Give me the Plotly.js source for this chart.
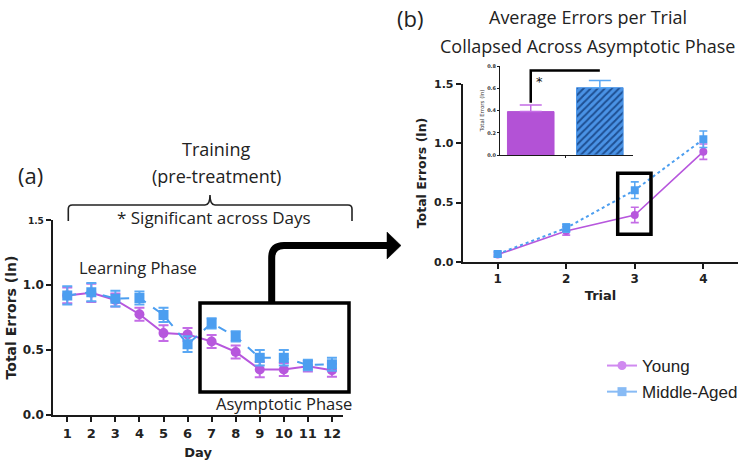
<!DOCTYPE html>
<html>
<head>
<meta charset="utf-8">
<script src="https://cdn.plot.ly/plotly-3.0.1.min.js"></script>
<style>html,body{margin:0;padding:0;background:#fff;}#chart{width:752px;height:470px;}</style>
</head>
<body>
<div id="chart"></div>
<script>
// ---------- data ----------
const days = [1,2,3,4,5,6,7,8,9,10,11,12];
const youngDay = [0.92,0.94,0.885,0.775,0.63,0.62,0.565,0.485,0.35,0.35,0.375,0.345];
const youngDayErr = [0.06,0.07,0.05,0.05,0.06,0.05,0.05,0.05,0.06,0.05,0.04,0.05];
const middleDay = [0.92,0.945,0.895,0.9,0.77,0.545,0.705,0.605,0.44,0.44,0.385,0.39];
const middleDayErr = [0.07,0.07,0.06,0.05,0.055,0.06,0.04,0.04,0.06,0.06,0.04,0.05];

const trials = [1,2,3,4];
const youngTrial = [0.06,0.26,0.395,0.93];
const youngTrialErr = [0.02,0.035,0.065,0.065];
const middleTrial = [0.065,0.285,0.605,1.035];
const middleTrialErr = [0.02,0.035,0.07,0.07];

const insetGroups = [1,2];           // Young, Middle-Aged
const insetMeans = [0.39,0.605];
const insetErr = [0.06,0.065];

const dayTickText = ['0.0','0.5','1.0','<span style="font-size:9px">1.5</span>'];
const yTicks = [0,0.5,1,1.5];
const insetTicks = [0,0.2,0.4,0.6,0.8];

// ---------- helpers ----------
const W = 752, H = 470;
const px = x => x / W;
const py = y => 1 - y / H;

const PURPLE = '#B757DD', PURPLE_E = '#C46CE6';
const BLUE = '#4C9EF0', BLUE_E = '#5AA8F4';
const tickFontBold = (s) => ({family:'DejaVu Sans', size:s, color:'#222', weight:'bold'});

const traces = [
  {x: days, y: youngDay, xaxis:'x', yaxis:'y', type:'scatter', mode:'lines+markers',
   line:{color:PURPLE, width:2}, marker:{color:PURPLE, size:10, symbol:'circle'},
   error_y:{type:'data', array:youngDayErr, color:PURPLE_E, thickness:2, width:5}, showlegend:false},
  {x: days, y: middleDay, xaxis:'x', yaxis:'y', type:'scatter', mode:'lines+markers',
   line:{color:BLUE, width:2, dash:'dash'}, marker:{color:BLUE, size:10, symbol:'square'},
   error_y:{type:'data', array:middleDayErr, color:BLUE_E, thickness:2, width:5}, showlegend:false},
  {x: trials, y: youngTrial, xaxis:'x2', yaxis:'y2', type:'scatter', mode:'lines+markers',
   line:{color:PURPLE, width:1.6}, marker:{color:PURPLE, size:8, symbol:'circle'},
   error_y:{type:'data', array:youngTrialErr, color:PURPLE_E, thickness:1.6, width:4}, showlegend:false},
  {x: trials, y: middleTrial, xaxis:'x2', yaxis:'y2', type:'scatter', mode:'lines+markers',
   line:{color:BLUE, width:2, dash:'dot'}, marker:{color:BLUE, size:8, symbol:'square'},
   error_y:{type:'data', array:middleTrialErr, color:BLUE_E, thickness:1.6, width:4}, showlegend:false},
  {x: [insetGroups[0]], y: [insetMeans[0]], xaxis:'x3', yaxis:'y3', type:'bar', width:0.674,
   marker:{color:'#B352D6', line:{color:'#B352D6', width:1}},
   error_y:{type:'data', symmetric:false, array:[insetErr[0]], arrayminus:[0], color:'#C46CE6', thickness:1.5, width:11},
   showlegend:false},
  {x: [insetGroups[1]], y: [insetMeans[1]], xaxis:'x3', yaxis:'y3', type:'bar', width:0.674,
   marker:{color:'#4A93E6', line:{color:'#4A93E6', width:1},
     pattern:{shape:'/', fillmode:'replace', bgcolor:'#4A93E6', fgcolor:'#1E4F92', size:5, solidity:0.4}},
   error_y:{type:'data', symmetric:false, array:[insetErr[1]], arrayminus:[0], color:'#5AA8F4', thickness:1.5, width:11},
   showlegend:false},
  // legend entries
  {x:[null], y:[null], xaxis:'x', yaxis:'y', type:'scatter', mode:'lines+markers', name:'Young', legendgroup:'a',
   line:{color:'#D08AF0', width:2}, marker:{color:'#D08AF0', size:9, symbol:'circle'}},
  {x:[null], y:[null], xaxis:'x', yaxis:'y', type:'scatter', mode:'lines+markers', name:'Middle-Aged', legendgroup:'b',
   line:{color:'#88BBF5', width:2}, marker:{color:'#88BBF5', size:9, symbol:'square'}}
];

const axBase = {showgrid:false, zeroline:false, showline:true, linecolor:'#1a1a1a', linewidth:2,
  ticks:'outside', tickcolor:'#1a1a1a', tickwidth:2, ticklen:5, fixedrange:true};

const ann = (text, x, y, size, family) => ({text, x:px(x), y:py(y), xref:'paper', yref:'paper',
  xanchor:'center', yanchor:'middle', showarrow:false,
  font:{family: family || 'Open Sans', size, color:'#222'}});

const layout = {
  width: W, height: H,
  margin:{l:0, r:0, t:0, b:0},
  paper_bgcolor:'#fff', plot_bgcolor:'rgba(0,0,0,0)',
  font:{family:'DejaVu Sans', color:'#222'},
  bargap:0,
  xaxis: Object.assign({}, axBase, {domain:[px(53.3), px(343)], range:[0.42,12.46], anchor:'y',
    tickvals: days, tickfont: tickFontBold(13),
    title:{text:'Day', font:tickFontBold(13), standoff:8}}),
  yaxis: Object.assign({}, axBase, {domain:[py(415), py(220)], range:[0,1.5], anchor:'x',
    tickvals: yTicks, ticktext: dayTickText, tickfont: tickFontBold(12),
    title:{text:'Total Errors (ln)', font:tickFontBold(14), standoff:3}}),
  xaxis2: Object.assign({}, axBase, {domain:[px(462.7), px(738.3)], range:[0.49,4.51], anchor:'y2',
    tickvals: trials, tickfont: tickFontBold(12),
    title:{text:'Trial', font:tickFontBold(13), standoff:6}}),
  yaxis2: Object.assign({}, axBase, {domain:[py(261.7), py(84.3)], range:[0,1.5], anchor:'x2',
    tickvals: yTicks, ticktext:['0.0','0.5','1.0','1.5'], tickfont: tickFontBold(11),
    title:{text:'Total Errors (ln)', font:tickFontBold(12.5), standoff:5}}),
  xaxis3: Object.assign({}, axBase, {domain:[px(500), px(633)], range:[0.555,2.48], anchor:'y3',
    linewidth:1, tickwidth:1, ticklen:2, tickvals:[1.5], showticklabels:false}),
  yaxis3: Object.assign({}, axBase, {domain:[py(155), py(66)], range:[0,0.8], anchor:'x3',
    linewidth:1, tickwidth:1, ticklen:2, tickvals: insetTicks, ticktext: insetTicks.map(v=>v.toFixed(1)),
    tickfont:{family:'DejaVu Sans', size:5, color:'#333', weight:'bold'},
    title:{text:'Total Errors (ln)', font:{family:'DejaVu Sans', size:5.5, color:'#333'}, standoff:2}}),
  legend:{x:px(602), y:py(348), xanchor:'left', yanchor:'top', bgcolor:'rgba(0,0,0,0)',
    font:{family:'Liberation Sans', size:17, color:'#222'}, tracegroupgap:1},
  shapes:[
    {type:'rect', xref:'paper', yref:'paper', x0:px(200), x1:px(349), y0:py(392), y1:py(303),
     line:{color:'#000', width:3.5}},
    {type:'rect', xref:'paper', yref:'paper', x0:px(617.7), x1:px(651), y0:py(234.3), y1:py(173.3),
     line:{color:'#000', width:3.5}},
    {type:'path', xref:'paper', yref:'paper',
     path:`M ${px(271.7)},${py(302)} L ${px(271.7)},${py(258)} Q ${px(271.7)},${py(245.5)} ${px(284)},${py(245.5)} L ${px(390)},${py(245.5)}`,
     line:{color:'#000', width:7}},
    {type:'path', xref:'paper', yref:'paper',
     path:`M ${px(387)},${py(232)} L ${px(401)},${py(245.5)} L ${px(387)},${py(259)} Z`,
     fillcolor:'#000', line:{color:'#000', width:0.5}},
    {type:'path', xref:'paper', yref:'paper',
     path:`M ${px(68.3)},${py(221)} L ${px(68.3)},${py(209)} Q ${px(68.3)},${py(205)} ${px(72.3)},${py(205)} L ${px(205)},${py(205)} Q ${px(210)},${py(205)} ${px(210)},${py(195)} Q ${px(210)},${py(205)} ${px(215)},${py(205)} L ${px(348)},${py(205)} Q ${px(352)},${py(205)} ${px(352)},${py(209)} L ${px(352)},${py(221)}`,
     line:{color:'#222', width:1.6}},
    {type:'path', xref:'x3', yref:'y3',
     path:`M ${insetGroups[0]},${insetMeans[0]+insetErr[0]+0.02} L ${insetGroups[0]},0.76 L ${insetGroups[1]},0.76`,
     line:{color:'#000', width:2.5}}
  ],
  annotations:[
    ann('(a)', 30, 175, 22),
    ann('Training', 216, 149, 18),
    ann('(pre-treatment)', 216, 176, 18),
    ann('* Significant across Days', 214, 217, 17),
    ann('Learning Phase', 137.5, 267, 16.5),
    ann('Asymptotic Phase', 284, 403, 16.5),
    ann('(b)', 410, 18, 22),
    ann('Average Errors per Trial', 588, 17, 18),
    ann('Collapsed Across Asymptotic Phase', 587, 46, 18),
    {text:'*', x:1.13, y:0.665, xref:'x3', yref:'y3', xanchor:'center', yanchor:'middle', showarrow:false,
     font:{family:'DejaVu Sans', size:13, color:'#111'}}
  ]
};

Plotly.newPlot('chart', traces, layout, {staticPlot:true, displayModeBar:false});
</script>
</body>
</html>
